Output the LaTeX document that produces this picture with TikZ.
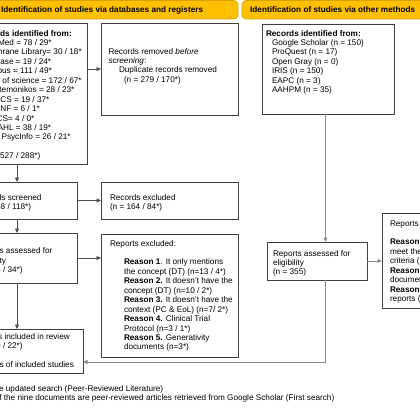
\documentclass[tikz,border=0pt]{standalone}
\usepackage{fontspec}
\setmainfont{Liberation Sans}
\usetikzlibrary{arrows.meta}
\definecolor{hdr}{HTML}{FFC000}
\definecolor{hdrline}{HTML}{D9A000}
\definecolor{boxline}{HTML}{404040}
\definecolor{arrdark}{HTML}{4D4D4D}
\definecolor{arrgray}{HTML}{8C8C8C}
\tikzset{
 box/.style={draw=boxline, line width=0.9pt, fill=white, inner sep=0pt, outer sep=0pt, anchor=north west},
 hdrbox/.style={draw=hdrline, fill=hdr, rounded corners=4pt, line width=0.6pt, inner sep=0pt, outer sep=0pt, anchor=north west},
 txt/.style={anchor=north west, inner sep=0pt, outer sep=0pt, align=left, font=\fontsize{8.2}{9.45}\selectfont},
 hdrtxt/.style={anchor=base west, inner sep=0pt, font=\fontsize{8.2}{9.45}\selectfont\bfseries},
 arr/.style={draw=arrdark, line width=0.7pt, -{Triangle[length=4.5pt,width=4pt]}},
 arrg/.style={draw=arrgray, line width=0.8pt, -{Triangle[length=4.5pt,width=4pt]}},
}
\begin{document}
\begin{tikzpicture}[x=1pt,y=-1pt]
\useasboundingbox (0,0) rectangle (420,420);
\fill[white] (0,0) rectangle (420,420);
\clip (0,0) rectangle (420,420);
% headers
\node[hdrbox, minimum width=278pt, minimum height=18.5pt] (hdrL) at (-40,0.5) {};
\node[hdrbox, minimum width=200pt, minimum height=18.5pt] (hdrR) at (242,0.5) {};
\node[hdrtxt] (hdrLt) at (1,13) {Identification of studies via databases and registers};
\node[hdrtxt] (hdrRt) at (250,13) {Identification of studies via other methods};
% boxes
\node[box, minimum width=140pt, minimum height=141pt] (b1) at (-53,23) {};
\node[box, minimum width=137pt, minimum height=92pt] (rm) at (101,23) {};
\node[box, minimum width=120pt, minimum height=37pt] (b2) at (-43,182) {};
\node[box, minimum width=137pt, minimum height=37pt] (ex1) at (101,182) {};
\node[box, minimum width=120pt, minimum height=50pt] (b3) at (-43,233) {};
\node[box, minimum width=137pt, minimum height=123pt] (ex2) at (101,234) {};
\node[box, minimum width=132pt, minimum height=44pt] (b4) at (-49,329) {};
\node[box, minimum width=132pt, minimum height=90pt] (o1) at (262,24) {};
\node[box, minimum width=100pt, minimum height=38pt] (o2) at (267,242) {};
\node[box, minimum width=100pt, minimum height=95pt] (o3) at (382,213) {};
% texts
\node[txt] (t1) at (-23,29.4) {\strut\textbf{Records identified from:}\\
\hspace*{6.5pt}PubMed = 78 / 29*\\
\hspace*{6.5pt}Cochrane Library= 30 / 18*\\
\hspace*{6.5pt}Embase = 19 / 24*\\
\hspace*{6.5pt}Scopus = 111 / 49*\\
\hspace*{6.5pt}Web of science = 172 / 67*\\
\hspace*{6.5pt}Epistemonikos = 28 / 23*\\
\hspace*{6.5pt}LILACS = 19 / 37*\\
\hspace*{6.5pt}BDENF = 6 / 1*\\
\hspace*{6.5pt}IBECS= 4 / 0*\\
\hspace*{6.5pt}CINAHL = 38 / 19*\\
\hspace*{6.5pt}APA PsycInfo = 26 / 21*\\
\strut\\
\hspace*{6.5pt}(n = 527 / 288*)};
\node[txt] (trm) at (108.5,47.4) {\strut Records removed \textit{before}\\
\textit{screening}:\\
\hspace*{10.5pt}Duplicate records removed\\
\hspace*{15.5pt}(n = 279 / 170*)};
\node[txt] (tb2) at (-25,193.4) {\strut Records screened\\ (n = 248 / 118*)};
\node[txt] (tex1) at (110,193.4) {\strut Records excluded\\ (n = 164 / 84*)};
\node[txt] (tb3) at (-25,247.1) {\strut Reports assessed for\\ eligibility\\ (n = 84 / 34*)};
\node[txt] (tex2) at (110,239.4) {\strut Reports excluded:\\
\strut\\
\hspace*{14pt}\textbf{Reason 1}. It only mentions\\
\hspace*{14pt}the concept (DT) (n=13 / 4*)\\
\hspace*{14pt}\textbf{Reason 2.} It doesn't have the\\
\hspace*{14pt}concept (DT) (n=10 / 2*)\\
\hspace*{14pt}\textbf{Reason 3.} It doesn't have the\\
\hspace*{14pt}context (PC \& EoL) (n=7/ 2*)\\
\hspace*{14pt}\textbf{Reason 4.} Clinical Trial\\
\hspace*{14pt}Protocol (n=3 / 1*)\\
\hspace*{14pt}\textbf{Reason 5.} Generativity\\
\hspace*{14pt}documents (n=3*)};
\node[txt] (tb4) at (-25,332.4) {\strut Studies included in review\\ (n = 60 / 22*)\\ \strut\\ Reports of included studies};
\node[txt] (to1) at (266,29.4) {\strut\textbf{Records identified from:}\\
\hspace*{6pt}Google Scholar (n = 150)\\
\hspace*{6pt}ProQuest (n = 17)\\
\hspace*{6pt}Open Gray (n = 0)\\
\hspace*{6pt}IRIS (n = 150)\\
\hspace*{6pt}EAPC (n = 3)\\
\hspace*{6pt}AAHPM (n = 35)};
\node[txt] (to2) at (273,249.4) {\strut Reports assessed for\\ eligibility\\ (n = 355)};
\node[txt] (to3) at (390,219.4) {\strut Reports excluded:\\
\strut\\
\textbf{Reason 1.} Doesn't\\
meet the inclusion\\
criteria (n = 340)\\
\textbf{Reason 2.} Duplicate\\
documents (n = 5)\\
\textbf{Reason 3.} Unavailable\\
reports (n = 1)};
\node[txt] (tfn) at (-23,384.4) {\strut * = The updated search (Peer-Reviewed Literature)\\
One of the nine documents are peer-reviewed articles retrieved from Google Scholar (First search)};
% connectors
\coordinate (vx) at (325.5,0);
\coordinate (jy) at (0,362);
\draw[arr] (b1.east |- rm.west) -- (rm.west);
\draw[arr] (b1.south) -- (b2.north);
\draw[arr] (b2.east) -- (b2.east -| ex1.west);
\draw[arr] (b2.south) -- (b3.north);
\draw[arr] (b3.east) -- (b3.east -| ex2.west);
\draw[arr] (b3.south) -- (b4.north);
\draw[arrg] (o1.south -| vx) -- (o2.north -| vx);
\draw[arrg] (o2.east) -- (o2.east -| o3.west);
\draw[arrg] (o2.south -| vx) |- (b4.east |- jy);
\end{tikzpicture}
\end{document}
